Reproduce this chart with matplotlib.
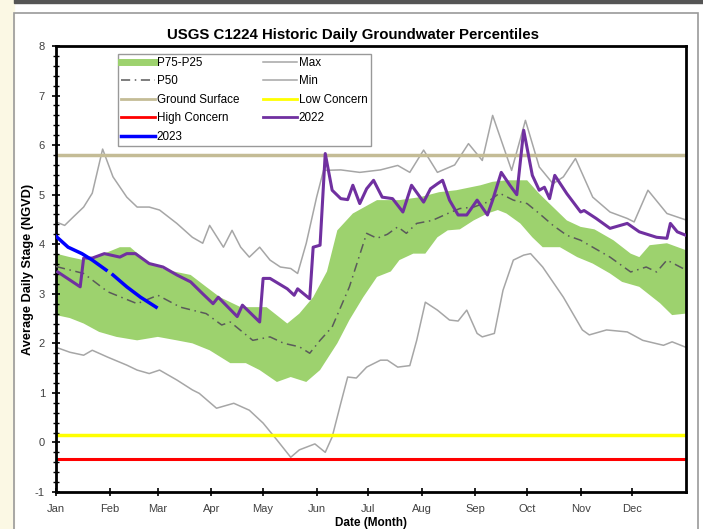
import matplotlib
matplotlib.use("Agg")
import matplotlib.pyplot as plt
from matplotlib.patches import Rectangle
from matplotlib.lines import Line2D
import numpy as np

plt.rcParams['font.family'] = ['Liberation Sans', 'DejaVu Sans']
plt.rcParams['axes.unicode_minus'] = False

# day of year (0 = Jan 1) and stage values
max_days = [0, 5, 10, 16, 21, 27, 33, 41, 47, 54, 60, 70, 79, 85, 89, 97, 102, 107, 112, 118,
            124, 130, 136, 140, 145, 151, 155, 165, 176, 188, 198, 205, 213, 221, 231, 239,
            247, 253, 264, 272, 280, 288, 294, 301, 311, 321, 331, 335, 343, 354, 365]
max_vals = [4.45, 4.38, 4.55, 4.75, 5.03, 5.92, 5.36, 4.95, 4.75, 4.75, 4.69, 4.42, 4.14, 4.02,
            4.38, 3.94, 4.28, 3.94, 3.74, 3.94, 3.68, 3.54, 3.51, 3.41, 4.02, 4.95, 5.49, 5.5,
            5.45, 5.5, 5.59, 5.45, 5.9, 5.45, 5.6, 6.03, 5.69, 6.6, 5.49, 6.5, 5.56, 5.22, 5.36,
            5.73, 4.95, 4.65, 4.52, 4.45, 5.09, 4.62, 4.49]

min_days = [0, 8, 16, 21, 30, 41, 47, 54, 60, 70, 79, 83, 93, 103, 112, 120, 128, 136, 141,
            150, 156, 160, 165, 169, 174, 180, 188, 192, 198, 205, 209, 214, 221, 228, 233,
            238, 244, 247, 254, 259, 265, 271, 275, 282, 294, 305, 309, 319, 331, 340, 352,
            357, 365]
min_vals = [1.92, 1.82, 1.76, 1.86, 1.72, 1.56, 1.46, 1.39, 1.46, 1.26, 1.06, 0.99, 0.69, 0.79,
            0.65, 0.39, 0.05, -0.3, -0.15, -0.03, -0.2, 0.11, 0.79, 1.32, 1.3, 1.52, 1.66, 1.66,
            1.52, 1.55, 2.06, 2.83, 2.67, 2.47, 2.45, 2.67, 2.2, 2.13, 2.2, 3.07, 3.68, 3.78,
            3.81, 3.54, 2.93, 2.27, 2.17, 2.27, 2.23, 2.06, 1.96, 2.03, 1.92]

p75_days = [0, 8, 16, 21, 30, 37, 43, 53, 64, 78, 87, 95, 107, 122, 134, 141, 149, 157, 163,
            172, 186, 199, 211, 222, 232, 246, 253, 261, 273, 280, 288, 296, 304, 312, 323,
            333, 338, 344, 354, 365]
p75_vals = [3.81, 3.74, 3.68, 3.74, 3.84, 3.94, 3.94, 3.64, 3.48, 3.38, 3.14, 2.93, 2.73, 2.73,
            2.4, 2.6, 2.93, 3.45, 4.28, 4.62, 4.89, 4.89, 4.95, 5.05, 5.09, 5.19, 5.26, 5.29,
            5.29, 5.02, 4.75, 4.48, 4.35, 4.3, 4.08, 3.81, 3.74, 3.98, 4.02, 3.88]

p25_days = [0, 8, 16, 25, 35, 47, 59, 70, 79, 89, 101, 110, 118, 128, 136, 145, 153, 163, 170,
            178, 186, 194, 199, 207, 214, 221, 227, 234, 242, 250, 256, 261, 269, 276, 282,
            292, 302, 311, 321, 328, 338, 350, 357, 365]
p25_vals = [2.57, 2.51, 2.4, 2.23, 2.13, 2.06, 2.13, 2.06, 2.0, 1.86, 1.6, 1.6, 1.46, 1.22, 1.32,
            1.22, 1.46, 2.0, 2.47, 2.93, 3.34, 3.45, 3.68, 3.81, 3.81, 4.14, 4.28, 4.3, 4.48,
            4.62, 4.69, 4.62, 4.42, 4.14, 3.94, 3.94, 3.74, 3.61, 3.41, 3.24, 3.14, 2.81, 2.57,
            2.6]

p50_days = [0, 16, 30, 47, 59, 72, 87, 96, 101, 114, 124, 132, 141, 147, 153, 160, 170, 180,
            186, 192, 198, 203, 209, 218, 227, 234, 242, 250, 257, 265, 273, 280, 288, 296,
            304, 311, 321, 333, 342, 348, 354, 365]
p50_vals = [3.55, 3.41, 3.04, 2.8, 2.97, 2.73, 2.6, 2.37, 2.43, 2.06, 2.13, 2.0, 1.93, 1.8,
            2.06, 2.33, 3.14, 4.22, 4.12, 4.2, 4.35, 4.22, 4.42, 4.48, 4.62, 4.72, 4.75, 4.85,
            5.03, 4.89, 4.82, 4.62, 4.38, 4.18, 4.08, 3.94, 3.74, 3.44, 3.54, 3.44, 3.68, 3.48]

y2022_days = [1, 14, 16, 21, 28, 37, 41, 46, 54, 62, 70, 78, 85, 91, 94, 105, 108, 118, 120,
              124, 134, 138, 140, 147, 149, 153, 156, 160, 165, 169, 172, 176, 180, 184, 189,
              195, 201, 206, 213, 217, 221, 224, 228, 233, 238, 244, 250, 253, 258, 263, 267,
              271, 276, 280, 283, 286, 289, 296, 304, 306, 313, 321, 331, 338, 348, 354, 356,
              360, 365]
y2022_vals = [3.44, 3.14, 3.72, 3.72, 3.81, 3.74, 3.81, 3.81, 3.61, 3.54, 3.38, 3.24, 3.0, 2.8,
              2.93, 2.54, 2.77, 2.43, 3.31, 3.31, 3.1, 2.97, 3.1, 2.9, 3.94, 3.98, 5.83, 5.09,
              4.92, 4.9, 5.19, 4.82, 5.12, 5.29, 4.95, 4.92, 4.65, 5.19, 4.85, 5.12, 5.22, 5.29,
              4.89, 4.59, 4.59, 4.89, 4.59, 4.89, 5.45, 5.19, 5.0, 6.3, 5.39, 5.09, 5.15, 4.92,
              5.39, 5.02, 4.65, 4.68, 4.52, 4.32, 4.42, 4.25, 4.14, 4.12, 4.42, 4.25, 4.18]

y2023_days = [0, 7, 15, 21, 29, 31, 33, 41, 49, 58]
y2023_vals = [4.16, 3.94, 3.81, 3.68, 3.48, np.nan, 3.38, 3.14, 2.93, 2.73]

ground_surface = 5.8
low_concern = 0.15
high_concern = -0.33

month_starts = [0, 31, 59, 90, 120, 151, 181, 212, 243, 273, 304, 334]
month_labels = ['Jan', 'Feb', 'Mar', 'Apr', 'May', 'Jun', 'Jul', 'Aug', 'Sep', 'Oct', 'Nov', 'Dec']

fig = plt.figure(figsize=(7.03, 5.29), dpi=100)

# slide background + chart frame
fig.add_artist(Rectangle((0, 0), 0.02, 1, transform=fig.transFigure, color='#fbf8e4', zorder=-5))
fig.add_artist(Rectangle((0.02, -0.01), 0.973, 0.985, transform=fig.transFigure, fill=False,
                         edgecolor='#9a9a9a', lw=1.2))
fig.add_artist(Rectangle((0.02, 0.995), 0.98, 0.01, transform=fig.transFigure, color='#555555'))

ax = fig.add_axes([0.0797, 0.070, 0.896, 0.843])

ax.fill(p75_days + p25_days[::-1], p75_vals + p25_vals[::-1], color='#9dd26e', lw=0, zorder=1)
ax.plot(max_days, max_vals, color='#a6a6a6', lw=1.1, zorder=2)
ax.plot(min_days, min_vals, color='#a6a6a6', lw=1.1, zorder=2)
ax.plot(p50_days, p50_vals, color='#5a5a5a', lw=1.1, ls=(0, (6, 3, 1, 3)), zorder=3)
ax.axhline(ground_surface, color='#c4bc96', lw=2.5, zorder=2)
ax.axhline(low_concern, color='#ffff00', lw=2.5, zorder=2)
ax.axhline(high_concern, color='#ff0000', lw=2.2, zorder=2)
ax.plot(y2022_days, y2022_vals, color='#7030a0', lw=2.2, zorder=4)
ax.plot(y2023_days, y2023_vals, color='#0000ff', lw=2.5, zorder=5)

ax.set_xlim(0, 365)
ax.set_ylim(-1, 8)
ax.set_xticks(month_starts)
ax.set_xticklabels(month_labels)
ax.set_yticks(range(-1, 9))
ax.set_yticks(np.arange(-1, 8.01, 0.2), minor=True)
ax.tick_params(axis='both', which='major', labelsize=8, labelcolor='#404040', direction='inout',
               length=6, width=1.2)
ax.tick_params(axis='y', which='minor', direction='inout', length=4, width=1)
ax.tick_params(axis='x', pad=6)
ax.tick_params(axis='y', pad=5)
for s in ax.spines.values():
    s.set_linewidth(2)

ax.set_title('USGS C1224 Historic Daily Groundwater Percentiles', fontsize=10.8, fontweight='bold',
             x=0.471, pad=5)
ax.set_ylabel('Average Daily Stage (NGVD)', fontsize=9.2, fontweight='bold', labelpad=1)
ax.set_xlabel('Date (Month)', fontsize=8.5, fontweight='bold', labelpad=2)

# column-first order for the two-column legend
handles = [
    Line2D([], [], color='#9dd26e', lw=5),
    Line2D([], [], color='#5a5a5a', lw=1.1, ls=(0, (6, 3, 1, 3))),
    Line2D([], [], color='#c4bc96', lw=2),
    Line2D([], [], color='#ff0000', lw=2),
    Line2D([], [], color='#0000ff', lw=2.5),
    Line2D([], [], color='#a6a6a6', lw=1.1),
    Line2D([], [], color='#a6a6a6', lw=1.1),
    Line2D([], [], color='#ffff00', lw=2),
    Line2D([], [], color='#7030a0', lw=2),
]
labels = ['P75-P25', 'P50', 'Ground Surface', 'High Concern', '2023',
          'Max', 'Min', 'Low Concern', '2022']
leg = ax.legend(handles, labels, ncol=2, loc='upper left', bbox_to_anchor=(0.098, 0.982),
                fontsize=8.4, frameon=True, fancybox=False, edgecolor='#808080',
                handlelength=2.9, handletextpad=0.2, columnspacing=2.0, labelspacing=0.55,
                borderpad=0.25, borderaxespad=0)
leg.get_frame().set_linewidth(1)

fig.savefig('out.png', dpi=100)
